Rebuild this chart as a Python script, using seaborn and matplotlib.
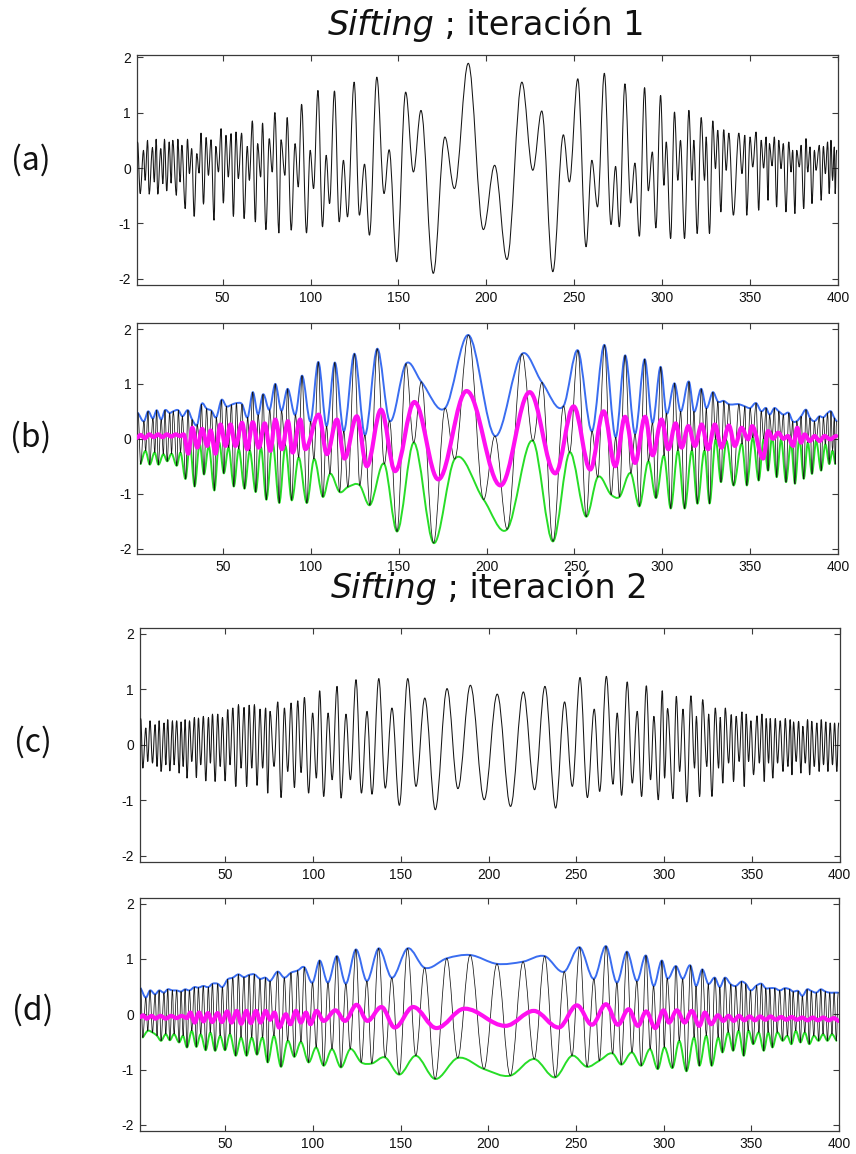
import matplotlib
matplotlib.use("Agg")
import numpy as np
import matplotlib.pyplot as plt
from matplotlib.path import Path
from matplotlib.patches import PathPatch
import seaborn as sns

# ---------------------------------------------------------------------------
# Data: successive local extrema (alternating max / min) of each curve
# ---------------------------------------------------------------------------
# signal before the first sifting pass (panels a, b)
sig1_x = [1.6, 3.1, 5.0, 5.9, 7.3, 8.2, 10.1, 11.1, 12.2, 13.1,
          14.8, 16.0, 16.9, 18.2, 19.6, 20.7, 21.6, 23.7, 24.5, 25.8,
          26.8, 28.7, 30.0, 31.1, 32.4, 33.8, 35.3, 36.6, 37.7, 39.1,
          40.6, 41.9, 43.4, 45.1, 46.1, 47.6, 49.1, 50.4, 51.9, 53.2,
          54.8, 56.1, 57.6, 58.9, 60.8, 62.2, 64.0, 65.2, 66.9, 68.6,
          69.9, 71.6, 72.7, 74.6, 76.5, 78.2, 79.7, 82.0, 83.2, 85.4,
          86.7, 89.0, 91.2, 93.0, 94.9, 97.7, 99.8, 101.7, 104.2, 106.8,
          108.9, 110.8, 113.6, 116.3, 118.7, 121.0, 124.8, 127.8, 130.7, 133.5,
          137.7, 141.8, 144.7, 149.0, 154.1, 158.5, 162.8, 169.8, 176.4, 181.8,
          189.7, 198.3, 204.7, 211.7, 220.2, 226.4, 231.5, 237.8, 243.8, 247.2,
          252.0, 256.7, 260.0, 263.2, 267.1, 270.9, 273.5, 275.6, 278.8, 282.1,
          284.5, 287.0, 290.0, 292.1, 294.4, 296.4, 299.1, 301.0, 302.3, 304.8,
          307.0, 308.9, 310.4, 312.7, 315.2, 316.9, 318.0, 319.9, 322.2, 324.1,
          325.0, 326.9, 328.8, 330.3, 331.6, 333.4, 335.0, 336.4, 337.9, 340.5,
          343.6, 345.4, 347.0, 348.1, 350.0, 351.5, 353.4, 354.9, 356.3, 357.7,
          359.1, 360.2, 361.0, 362.5, 363.8, 365.1, 366.3, 367.6, 368.9, 370.4,
          372.0, 373.3, 374.2, 375.5, 376.5, 378.0, 379.0, 380.5, 381.8, 382.8,
          384.1, 385.2, 386.6, 387.5, 389.4, 390.4, 391.7, 392.8, 394.1, 395.0,
          396.0, 396.9, 397.9, 398.4, 399.2]
sig1_y = [0.47, -0.46, 0.32, -0.22, 0.50, -0.47, 0.37, -0.25, 0.52, -0.47,
          0.35, -0.28, 0.52, -0.41, 0.47, -0.27, 0.50, -0.49, 0.52, -0.25,
          0.41, -0.73, 0.52, -0.10, 0.35, -0.87, 0.26, -0.09, 0.63, -0.65,
          0.55, -0.13, 0.51, -0.94, 0.39, -0.07, 0.71, -0.63, 0.59, -0.16,
          0.62, -0.87, 0.65, -0.19, 0.63, -0.91, 0.39, -0.22, 0.85, -0.97,
          0.44, -0.16, 0.81, -1.11, 0.53, -0.07, 1.00, -1.17, 0.51, -0.13,
          0.91, -1.12, 0.44, -0.34, 1.15, -1.17, 0.32, -0.37, 1.40, -1.06,
          0.23, -0.64, 1.39, -0.97, 0.14, -0.88, 1.55, -0.85, 0.07, -1.21,
          1.64, -0.46, 0.33, -1.69, 1.37, -0.07, 1.04, -1.90, 0.56, -0.37,
          1.89, -1.11, 0.05, -1.65, 1.55, -0.04, 1.03, -1.87, 0.60, -0.25,
          1.61, -1.42, 0.14, -0.70, 1.71, -1.02, 0.03, -1.06, 1.52, -0.63,
          0.09, -1.23, 1.45, -0.41, 0.29, -1.08, 1.31, -0.31, 0.47, -1.27,
          1.01, -0.22, 0.50, -1.27, 1.04, -0.22, 0.50, -1.18, 0.91, -0.22,
          0.56, -1.18, 0.85, -0.01, 0.68, -0.79, 0.69, -0.04, 0.63, -0.85,
          0.63, -0.10, 0.59, -0.85, 0.56, 0.02, 0.65, -0.76, 0.50, 0.00,
          0.56, -0.58, 0.44, 0.04, 0.56, -0.70, 0.50, -0.01, 0.44, -0.79,
          0.47, -0.07, 0.32, -0.82, 0.32, 0.02, 0.41, -0.73, 0.53, -0.07,
          0.38, -0.64, 0.32, -0.04, 0.41, -0.58, 0.39, -0.10, 0.47, -0.46,
          0.50, -0.22, 0.38, -0.46, 0.32]

# mean of the envelopes, first pass (panel b)
mean1_x = [1.0, 3.0, 5.5, 8.0, 10.5, 13.0, 15.5, 18.0, 20.5, 23.0, 25.5, 27.5,
           30.2, 32.5, 35.3, 38.1, 41.0, 42.9, 45.7, 48.5, 51.4, 54.2, 57.0,
           60.8, 63.7, 66.9, 70.3, 73.7, 76.9, 79.7, 83.5, 86.9, 89.6, 93.9, 96.8,
           104.4, 109.1, 114.8, 119.1, 126.1, 131.8, 139.9, 147.9, 158.9, 172.5,
           188.6, 207.9, 224.5, 239.1, 249.5, 259.0, 266.6, 273.2, 278.8, 284.5,
           290.2, 294.5, 299.6,
           303.4, 307.6, 311.0, 314.8, 318.6, 322.4, 326.1, 329.9, 333.7, 337.9,
           341.3, 345.1, 348.9, 351.1, 357.4, 360.2, 363.0, 366.0, 369.0, 371.5,
           374.4, 376.8, 379.0, 381.0, 384.0, 386.7, 389.5, 392.4, 395.5, 399.0]
mean1_y = [0.02, 0.07, 0.01, 0.08, 0.03, 0.08, 0.03, 0.08, 0.04, 0.08, 0.05, 0.08,
           -0.27, 0.20, -0.16, 0.18, -0.13, 0.15, -0.27, 0.26, -0.13, 0.26, -0.13,
           0.29, -0.19, 0.30, -0.16, 0.28, -0.22, 0.35, -0.19, 0.32, -0.25, 0.35, -0.19,
           0.44, -0.28, 0.35, -0.36, 0.41, -0.50, 0.53, -0.59, 0.67, -0.74,
           0.87, -0.85, 0.85, -0.63, 0.59, -0.56, 0.50, -0.50, 0.40, -0.44,
           0.40, -0.30, 0.35,
           -0.19, 0.28, -0.16, 0.23, -0.13, 0.26, -0.19, 0.26, -0.16, 0.24,
           -0.13, 0.20, -0.01, 0.23, -0.36, 0.14, 0.00, 0.11, 0.00, 0.05,
           -0.13, 0.20, -0.07, 0.08, -0.04, 0.05, -0.04, 0.05, -0.01, 0.05]

# signal after the first sifting pass (panels c, d)
sig2_x = [1.7, 2.9, 4.6, 5.7, 7.0, 8.4, 9.9, 11.0, 12.2, 13.3,
          15.0, 16.0, 17.1, 18.3, 19.8, 20.7, 22.2, 23.6, 24.7, 25.9,
          27.0, 28.1, 29.5, 30.8, 32.3, 33.4, 34.6, 35.9, 37.4, 38.8,
          40.3, 41.4, 42.6, 44.1, 45.6, 47.0, 48.3, 49.8, 51.3, 52.6,
          54.2, 55.9, 57.4, 58.9, 60.6, 62.1, 63.5, 65.0, 66.5, 68.0,
          69.7, 71.2, 72.9, 74.1, 75.4, 77.7, 79.8, 81.7, 83.6, 85.5,
          87.4, 89.3, 91.2, 93.1, 95.0, 97.4, 99.7, 101.8, 103.7, 106.0,
          108.5, 110.8, 113.6, 115.9, 118.7, 121.2, 124.4, 127.5, 130.7, 133.5,
          137.4, 141.1, 144.9, 149.1, 153.9, 158.6, 163.6, 169.6, 176.3, 182.5,
          189.6, 197.5, 204.9, 212.5, 219.8, 226.2, 232.1, 238.2, 243.3, 247.7,
          252.1, 256.3, 260.2, 263.3, 267.1, 270.9, 273.3, 275.8, 279.0, 281.9,
          284.7, 287.2, 289.9, 292.3, 294.2, 296.7, 299.0, 300.3, 302.0, 305.1,
          307.0, 308.9, 310.8, 313.0, 315.3, 317.4, 318.4, 320.3, 322.0, 324.4,
          325.4, 327.3, 329.2, 331.1, 332.0, 333.5, 334.9, 336.8, 338.3, 339.6,
          341.1, 342.8, 344.4, 345.7, 346.8, 348.2, 349.5, 351.0, 353.0, 354.3,
          355.8, 357.1, 358.2, 359.6, 360.5, 362.0, 363.4, 364.7, 366.2, 367.8,
          369.1, 370.6, 371.9, 372.9, 373.8, 375.3, 376.7, 378.0, 379.1, 380.5,
          381.8, 383.0, 384.2, 385.6, 387.1, 388.4, 389.6, 390.9, 392.2, 393.4,
          394.7, 396.0, 397.2, 398.5, 399.5]
sig2_y = [0.47, -0.42, 0.30, -0.30, 0.43, -0.33, 0.36, -0.39, 0.43, -0.48,
          0.39, -0.36, 0.45, -0.47, 0.43, -0.36, 0.43, -0.51, 0.41, -0.39,
          0.45, -0.60, 0.43, -0.30, 0.49, -0.59, 0.48, -0.36, 0.51, -0.65,
          0.49, -0.33, 0.55, -0.66, 0.55, -0.39, 0.49, -0.65, 0.63, -0.36,
          0.66, -0.75, 0.72, -0.42, 0.67, -0.75, 0.71, -0.42, 0.72, -0.73,
          0.64, -0.42, 0.66, -0.87, 0.60, -0.39, 0.77, -0.95, 0.66, -0.48,
          0.75, -0.77, 0.79, -0.50, 0.85, -0.87, 0.57, -0.60, 0.97, -0.93,
          0.57, -0.63, 1.05, -0.96, 0.55, -0.63, 1.17, -0.87, 0.60, -0.89,
          1.19, -0.78, 0.66, -1.09, 1.19, -0.75, 0.84, -1.17, 1.01, -0.79,
          1.07, -0.99, 0.91, -1.11, 0.95, -0.81, 1.05, -1.14, 0.77, -0.75,
          1.21, -0.95, 0.64, -0.84, 1.23, -0.71, 0.57, -0.91, 1.13, -0.69,
          0.60, -0.93, 1.06, -0.63, 0.51, -0.99, 0.97, -0.60, 0.65, -0.97,
          0.87, -0.48, 0.64, -1.03, 0.88, -0.42, 0.51, -0.93, 0.81, -0.39,
          0.55, -0.93, 0.66, -0.42, 0.49, -0.69, 0.66, -0.33, 0.54, -0.66,
          0.51, -0.30, 0.59, -0.75, 0.55, -0.30, 0.43, -0.54, 0.52, -0.33,
          0.55, -0.66, 0.47, -0.33, 0.47, -0.60, 0.47, -0.33, 0.43, -0.48,
          0.47, -0.39, 0.45, -0.54, 0.41, -0.30, 0.42, -0.51, 0.33, -0.33,
          0.45, -0.54, 0.42, -0.39, 0.39, -0.48, 0.45, -0.36, 0.41, -0.48,
          0.39, -0.36, 0.39, -0.48, 0.39]

# mean of the envelopes, second pass (panel d)
mean2_x = [1.5, 3, 5, 8, 10, 13, 16, 19, 22, 25, 28,
           30, 32.5, 35, 37.5, 40, 42.5, 45.5, 48, 51, 53.5, 56.5, 59, 62, 64.5,
           67.5, 70, 73, 75.5, 78, 80.6,
           84.5, 87, 90.3, 93, 96, 98.5, 102, 106, 112.8, 118.2, 124.8, 131, 139,
           146.6, 157.1, 170.4, 186.5, 209.7, 225.9, 240.1, 250.5, 259.1, 267.1,
           273.9, 280.0, 285.3, 290.0, 295.2, 299.9, 303, 307.5, 312, 316, 320.3,
           323.5, 327,
           331, 334, 337, 340, 343, 346, 349, 352, 355, 358, 361, 364, 367, 370,
           373, 376, 379, 382, 385, 388, 391, 394, 397, 400]
mean2_y = [-0.05, -0.02, -0.08, -0.03, -0.08, -0.03, -0.08, -0.03, -0.07, -0.03, -0.07,
           0.03, -0.15, 0.03, -0.13, 0.02, -0.14, 0.02, -0.14, 0.05, -0.15, 0.06,
           -0.17, 0.06, -0.16, 0.06, -0.15, 0.06, -0.10, 0.03, -0.24,
           0.00, -0.18, 0.06, -0.15, 0.03, -0.18, 0.06, -0.12, 0.07, -0.12, 0.17,
           -0.12, 0.13, -0.24, 0.13, -0.25, 0.10, -0.21, 0.06, -0.24, 0.16, -0.19,
           0.18, -0.19, 0.09, -0.21, 0.05, -0.25, 0.07, -0.15, 0.07, -0.15, 0.06,
           -0.21, 0.03, -0.18,
           -0.02, -0.12, -0.03, -0.12, -0.03, -0.11, -0.04, -0.11, -0.04, -0.10,
           -0.04, -0.10, -0.05, -0.10, -0.05, -0.10, -0.06, -0.11, -0.06, -0.11,
           -0.06, -0.11, -0.07, -0.12]

x_ticks = [50, 100, 150, 200, 250, 300, 350, 400]
y_ticks = [-2, -1, 0, 1, 2]
panel_tags = ["(a)", "(b)", "(c)", "(d)"]
titles = ["iteración 1", "iteración 2"]

for xs, ys in [(sig1_x, sig1_y), (mean1_x, mean1_y), (sig2_x, sig2_y), (mean2_x, mean2_y)]:
    assert len(xs) == len(ys), (len(xs), len(ys))

# ---------------------------------------------------------------------------
# Style
# ---------------------------------------------------------------------------
W, H = 856, 1154
sns.set_theme(style="ticks")
plt.rcParams.update({
    "font.family": ["Liberation Sans", "DejaVu Sans"],
    "axes.unicode_minus": False,
    "axes.edgecolor": "#3a3a3a",
    "axes.linewidth": 0.9,
    "axes.facecolor": "white",
    "xtick.direction": "in", "ytick.direction": "in",
    "xtick.top": True, "ytick.right": True,
    "xtick.major.size": 4.0, "ytick.major.size": 4.0,
    "xtick.major.width": 0.8, "ytick.major.width": 0.8,
    "xtick.labelsize": 10, "ytick.labelsize": 10,
    "xtick.color": "#3a3a3a", "ytick.color": "#3a3a3a",
    "xtick.labelcolor": "#111111", "ytick.labelcolor": "#111111",
    "xtick.major.pad": 4, "ytick.major.pad": 4,
})

C_SIG = "#151515"
C_UP = "#3a6df0"
C_LO = "#27dd27"
C_MEAN = "#ff10f0"


def extrema_path(xs, ys, k=0.36):
    """Smooth path through successive extrema (flat tangent at each one)."""
    xs = np.asarray(xs, float)
    ys = np.asarray(ys, float)
    verts = [(xs[0], ys[0])]
    codes = [Path.MOVETO]
    for x0, y0, x1, y1 in zip(xs[:-1], ys[:-1], xs[1:], ys[1:]):
        d = x1 - x0
        verts += [(x0 + k * d, y0), (x1 - k * d, y1), (x1, y1)]
        codes += [Path.CURVE4] * 3
    return Path(verts, codes)


def spline_path(xs, ys):
    """Cubic Hermite path through the given knots."""
    xs = np.asarray(xs, float)
    ys = np.asarray(ys, float)
    sec = np.diff(ys) / np.diff(xs)
    m = np.empty(len(xs))
    m[1:-1] = 0.5 * (sec[:-1] + sec[1:])
    m[0], m[-1] = sec[0], sec[-1]
    verts = [(xs[0], ys[0])]
    codes = [Path.MOVETO]
    for i in range(len(xs) - 1):
        d = xs[i + 1] - xs[i]
        verts += [(xs[i] + d / 3, ys[i] + m[i] * d / 3),
                  (xs[i + 1] - d / 3, ys[i + 1] - m[i + 1] * d / 3),
                  (xs[i + 1], ys[i + 1])]
        codes += [Path.CURVE4] * 3
    return Path(verts, codes)


def split_extrema(xs, ys):
    xs = np.asarray(xs, float)
    ys = np.asarray(ys, float)
    is_max = np.r_[ys[0] > ys[1],
                   (ys[1:-1] > ys[:-2]) & (ys[1:-1] > ys[2:]),
                   ys[-1] > ys[-2]]
    return (xs[is_max], ys[is_max]), (xs[~is_max], ys[~is_max])


def draw(ax, path, color, lw, z):
    ax.add_patch(PathPatch(path, fill=False, edgecolor=color, lw=lw,
                           joinstyle="round", capstyle="round", zorder=z))


def rect(l, r, t, b):
    return [l / W, 1 - b / H, (r - l) / W, (b - t) / H]


fig = plt.figure(figsize=(W / 100, H / 100), dpi=100)
fig.patch.set_facecolor("white")

axes = [
    fig.add_axes(rect(136.5, 838.0, 55, 285)),
    fig.add_axes(rect(137.0, 838.0, 323, 554)),
    fig.add_axes(rect(139.5, 839.5, 628, 862)),
    fig.add_axes(rect(139.5, 839.0, 898, 1131)),
]
ylims = [(-2.11, 2.04), (-2.10, 2.11), (-2.11, 2.10), (-2.11, 2.10)]

for ax, yl in zip(axes, ylims):
    ax.set_xlim(1, 400)
    ax.set_ylim(*yl)
    ax.set_xticks(x_ticks)
    ax.set_yticks(y_ticks)
    ax.set_xticklabels([str(v) for v in x_ticks])
    ax.set_yticklabels([str(v) for v in y_ticks])
    ax.grid(False)
    for s in ax.spines.values():
        s.set_visible(True)

# (a) raw signal
draw(axes[0], extrema_path(sig1_x, sig1_y), C_SIG, 0.75, 3)

# (b) signal with envelopes and their mean
(ux, uy), (lx, ly) = split_extrema(sig1_x, sig1_y)
draw(axes[1], spline_path(ux, uy), C_UP, 1.4, 2)
draw(axes[1], spline_path(lx, ly), C_LO, 1.4, 2)
draw(axes[1], extrema_path(sig1_x, sig1_y), C_SIG, 0.55, 3)
draw(axes[1], extrema_path(mean1_x, mean1_y), C_MEAN, 3.0, 4)

# (c) signal after first pass
draw(axes[2], extrema_path(sig2_x, sig2_y), C_SIG, 0.75, 3)

# (d) second pass envelopes and mean
(ux, uy), (lx, ly) = split_extrema(sig2_x, sig2_y)
draw(axes[3], spline_path(ux, uy), C_UP, 1.4, 2)
draw(axes[3], spline_path(lx, ly), C_LO, 1.4, 2)
draw(axes[3], extrema_path(sig2_x, sig2_y), C_SIG, 0.55, 3)
draw(axes[3], extrema_path(mean2_x, mean2_y), C_MEAN, 3.0, 4)

# panel tags
tag_pos = [(31, 160), (31, 437), (33, 742), (33, 1010)]
for tag, (px, py) in zip(panel_tags, tag_pos):
    fig.text(px / W, 1 - py / H, tag, ha="center", va="center",
             fontsize=23, family=["Noto Sans CJK JP", "DejaVu Sans"], color="#111111")

# section titles: italic "Sifting" followed by the iteration text (baseline placed)
renderer = fig.canvas.get_renderer()
TITLE_FS = 24
for text, (cx, base) in zip(titles, [(486, 35), (489, 598)]):
    t1 = fig.text(0, 1 - base / H, "Sifting", ha="left", va="baseline",
                  fontsize=TITLE_FS, fontstyle="italic", family=["DejaVu Sans"],
                  color="#111111")
    t2 = fig.text(0, 1 - base / H, " ; " + text, ha="left", va="baseline",
                  fontsize=TITLE_FS, family=["DejaVu Sans"], color="#111111")
    w1 = t1.get_window_extent(renderer).width
    w2 = t2.get_window_extent(renderer).width
    x0 = cx - (w1 + w2) / 2
    t1.set_x(x0 / W)
    t2.set_x((x0 + w1) / W)

fig.savefig("out.png", dpi=100, facecolor="white")
